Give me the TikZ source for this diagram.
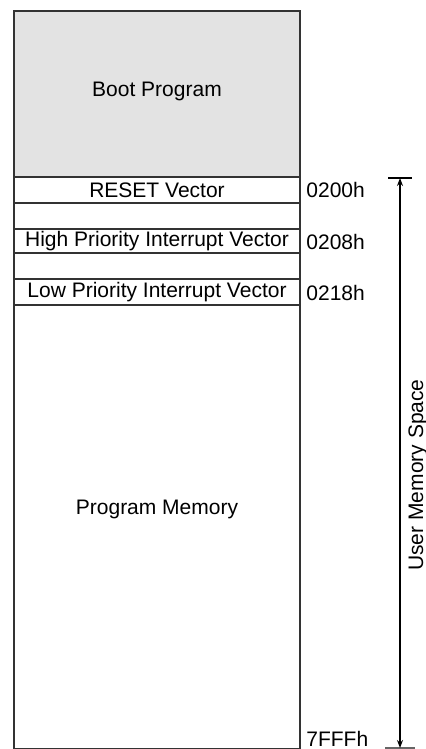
\documentclass[tikz,border=0pt]{standalone}
\usepackage{fontspec}
\setmainfont{Liberation Sans}
\usetikzlibrary{arrows.meta}

\tikzset{
  cell/.style={draw=black!80,line width=0.8pt,minimum width=143pt,inner sep=0pt,anchor=north,
    font=\fontsize{10.5}{12}\selectfont},
  addr/.style={anchor=west,inner sep=0pt,font=\fontsize{10.5}{12}\selectfont}
}

\begin{document}
\begin{tikzpicture}[x=0.5pt,y=-0.5pt]
  \useasboundingbox (0,0) rectangle (425,749);
  % memory map
  \node[cell,fill=black!11,minimum height=83pt] (boot) at (157,10) {};
  \node[font=\fontsize{10.5}{12}\selectfont] (boottxt) at (157,91) {Boot Program};
  \node[cell,minimum height=13pt] (reset) at (157,176) {RESET Vector};
  \node[cell,minimum height=13pt] (gap1) at (157,202) {};
  \node[cell,minimum height=12pt] (high) at (157,228) {High Priority Interrupt Vector};
  \node[cell,minimum height=13pt] (gap2) at (157,252) {};
  \node[cell,minimum height=13pt] (low) at (157,278) {Low Priority Interrupt Vector};
  \node[cell,minimum height=222pt] (prog) at (157,304) {};
  \node[font=\fontsize{10.5}{12}\selectfont] (progtxt) at (157,509) {Program Memory};
  % addresses
  \node[addr] (a0) at (306,190) {0200h};
  \node[addr] (a1) at (306,242) {0208h};
  \node[addr] (a2) at (306,293) {0218h};
  \node[addr] (a3) at (306,739) {7FFFh};
  % user space
  \coordinate (top) at (400,178);
  \coordinate (bot) at (400,748);
  \draw[line width=0.8pt] (388,178) -- (412,178);
  \draw[line width=0.8pt,black!60] (385,748) -- (415,748);
  \draw[line width=0.8pt,{Stealth[length=4pt,width=3pt]}-{Stealth[length=4pt,width=3pt]}] (top) -- (bot);
  \node[rotate=90,inner sep=0pt,font=\fontsize{10.5}{12}\selectfont] (usr) at (418,475) {User Memory Space};
\end{tikzpicture}
\end{document}
